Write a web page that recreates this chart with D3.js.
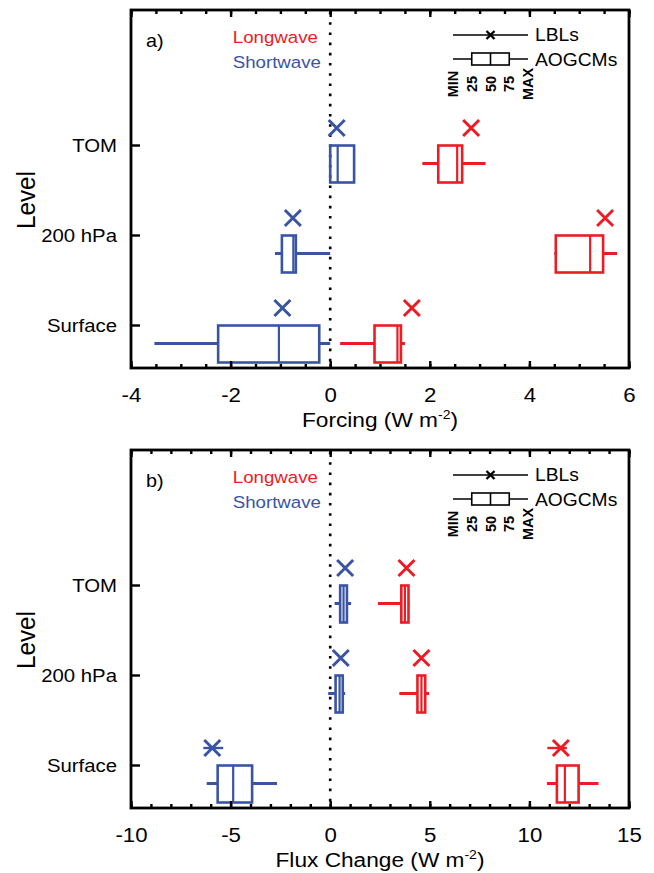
<!DOCTYPE html>
<html>
<head>
<meta charset="utf-8">
<script src="https://cdn.jsdelivr.net/npm/d3@7"></script>
<style>
  body { margin: 0; background: #fff; }
  text { font-family: "Liberation Sans", Arial, Helvetica, sans-serif; fill: #000; }
</style>
</head>
<body>
<svg id="chart" width="654" height="873"></svg>
<script>
//-------------------------------------------------
// Data
//-------------------------------------------------
var levels = ["TOM", "200 hPa", "Surface"];
var boxKeys = ["min", "q25", "q50", "q75", "max"];

// panel a) forcing, per level: [min, 25, 50, 75, max]
var forcingLW = [[1.85, 2.17, 2.55, 2.65, 3.12], [4.50, 4.53, 5.22, 5.48, 5.76], [0.20, 0.89, 1.35, 1.42, 1.50]];
var forcingSW = [[0.00, 0.00, 0.15, 0.48, 0.48], [-1.11, -0.97, -0.74, -0.69, 0.00], [-3.53, -2.25, -1.03, -0.22, 0.00]];
var forcingLblLW = [2.83, 5.52, 1.64];
var forcingLblSW = [0.13, -0.75, -0.96];
var forcingTicks = [-4, -2, 0, 2, 4, 6];

// panel b) flux change
var fluxLW = [[2.40, 3.57, 3.75, 3.93, 3.98], [3.47, 4.38, 4.58, 4.77, 4.97], [10.88, 11.38, 11.78, 12.47, 13.47]];
var fluxSW = [[0.22, 0.50, 0.67, 0.84, 1.05], [-0.10, 0.27, 0.47, 0.63, 0.75], [-6.20, -5.65, -4.87, -3.92, -2.67]];
var fluxLblLW = [3.83, 4.58, 11.58];
var fluxLblSW = [0.75, 0.53, -5.92];
var fluxLblRangeLW = [[3.83, 3.83], [4.58, 4.58], [10.90, 11.88]];
var fluxLblRangeSW = [[0.75, 0.75], [0.53, 0.53], [-6.37, -5.37]];
var fluxTicks = [-10, -5, 0, 5, 10, 15];

var legendLabels = ["MIN", "25", "50", "75", "MAX"];
//-------------------------------------------------

var red = "#ec1c24", blue = "#3a54a4";
var left = 131, right = 629, ph = 358;

var svg = d3.select("#chart");

function txt(g, x, y, s, o) {
  o = o || {};
  var sx = o.stretch || 1.1;  // glyphs in the figure are a bit wider than Arial
  return g.append("text")
    .attr("transform", "translate(" + x + "," + y + ")" + (o.rotate ? " rotate(" + o.rotate + ")" : "") + " scale(" + sx + ",1)")
    .attr("text-anchor", o.anchor || "start")
    .attr("dy", o.dy || null)
    .style("font-size", (o.size || 18) + "px")
    .style("font-weight", o.weight || "normal")
    .style("fill", o.fill || "#000")
    .text(s);
}

function toBox(rows) {
  return rows.map(function (r, i) {
    var o = { level: levels[i] };
    boxKeys.forEach(function (k, j) { o[k] = r[j]; });
    return o;
  });
}

function drawPanel(cfg) {
  var g = svg.append("g").attr("transform", "translate(0," + cfg.top + ")");
  var x = d3.scaleLinear().domain(cfg.domain).range([left, right]);
  var y = d3.scalePoint().domain(levels).range([135, 315]);
  var boxH = 37;

  // zero line
  g.append("line")
    .attr("x1", x(0)).attr("x2", x(0))
    .attr("y1", 2).attr("y2", ph)
    .attr("stroke", "#000").attr("stroke-width", 2.6)
    .attr("stroke-dasharray", "2.6,7.6");

  // boxes
  [{ d: toBox(cfg.lw), c: red }, { d: toBox(cfg.sw), c: blue }].forEach(function (s) {
    var b = g.append("g").selectAll("g").data(s.d).enter().append("g")
      .attr("stroke", s.c).attr("fill", "none");
    b.append("line")
      .attr("x1", function (d) { return x(d.min); })
      .attr("x2", function (d) { return x(d.q25); })
      .attr("y1", function (d) { return y(d.level) + boxH / 2; })
      .attr("y2", function (d) { return y(d.level) + boxH / 2; })
      .attr("stroke-width", 3);
    b.append("line")
      .attr("x1", function (d) { return x(d.q75); })
      .attr("x2", function (d) { return x(d.max); })
      .attr("y1", function (d) { return y(d.level) + boxH / 2; })
      .attr("y2", function (d) { return y(d.level) + boxH / 2; })
      .attr("stroke-width", 3);
    b.append("rect")
      .attr("x", function (d) { return x(d.q25); })
      .attr("width", function (d) { return Math.max(x(d.q75) - x(d.q25), 1); })
      .attr("y", function (d) { return y(d.level) + 0.5; })
      .attr("height", boxH)
      .attr("stroke-width", 2.6);
    b.append("line")
      .attr("x1", function (d) { return x(d.q50); })
      .attr("x2", function (d) { return x(d.q50); })
      .attr("y1", function (d) { return y(d.level) + 0.5; })
      .attr("y2", function (d) { return y(d.level) + boxH + 0.5; })
      .attr("stroke-width", 2.2);
  });

  // LBL crosses
  [{ v: cfg.lblLW, r: cfg.rangeLW, c: red }, { v: cfg.lblSW, r: cfg.rangeSW, c: blue }].forEach(function (s) {
    var m = g.append("g").selectAll("g").data(s.v).enter().append("g")
      .attr("stroke", s.c).attr("stroke-width", 3)
      .attr("transform", function (d, i) { return "translate(" + x(d) + "," + (y(levels[i]) - 17) + ")"; });
    m.append("path").attr("d", "M-8,-8L8,8M-8,8L8,-8");
    if (s.r) {
      m.append("line")
        .attr("x1", function (d, i) { return x(s.r[i][0]) - x(d); })
        .attr("x2", function (d, i) { return x(s.r[i][1]) - x(d); })
        .attr("stroke-width", 2.4);
    }
  });

  // axes: major + minor ticks, bottom and top, pointing inward
  var bottom = g.append("g").attr("transform", "translate(0," + ph + ")")
    .call(d3.axisBottom(x).tickValues(cfg.ticks).tickSize(-7).tickFormat(d3.format("d")));
  bottom.selectAll("text")
    .attr("y", null).attr("dy", null)
    .attr("transform", "translate(0,34) scale(1.06,1)")
    .style("font-size", "21px").style("font-family", "Liberation Sans, Arial, sans-serif")
    .text(function (d) { return d < 0 ? "-" + Math.abs(d) : d; });
  g.append("g").attr("transform", "translate(0," + ph + ")")
    .call(d3.axisBottom(x).tickValues(cfg.minor).tickSize(-4).tickFormat(""));
  g.append("g")
    .call(d3.axisTop(x).tickValues(cfg.ticks).tickSize(-7).tickFormat(""));
  g.append("g")
    .call(d3.axisTop(x).tickValues(cfg.minor).tickSize(-4).tickFormat(""));
  var yAx = g.append("g").attr("transform", "translate(" + left + ",0)")
    .call(d3.axisLeft(y).tickSize(-9));
  yAx.selectAll("text")
    .attr("x", null).attr("dy", "0.34em")
    .attr("transform", "translate(-14,0) scale(1.1,1)")
    .style("font-size", "18.5px").style("font-family", "Liberation Sans, Arial, sans-serif");
  g.selectAll(".domain").remove();
  g.selectAll(".tick line").attr("stroke", "#000").attr("stroke-width", 2.4);

  // frame
  g.append("rect")
    .attr("x", left).attr("y", 0)
    .attr("width", right - left).attr("height", ph)
    .attr("fill", "none").attr("stroke", "#000").attr("stroke-width", 2.8);

  // titles
  var t = txt(g, (left + right) / 2, ph + 59, cfg.title, { anchor: "middle", size: 21, stretch: 1.08 });
  t.append("tspan").attr("dy", -8).style("font-size", "13px").text("-2");
  t.append("tspan").attr("dy", 8).text(")");
  txt(g, 26, 190, "Level", { rotate: -90, anchor: "middle", dy: "0.36em", size: 25, stretch: 0.97 });

  // panel letter and series key
  txt(g, 146, 37, cfg.letter, { size: 18 });
  txt(g, 318, 33, "Longwave", { anchor: "end", size: 17, fill: red });
  txt(g, 321, 58, "Shortwave", { anchor: "end", size: 17, fill: blue });

  // LBL / AOGCM key
  var lx = d3.scalePoint().domain(legendLabels).range([453, 528]);
  var key = g.append("g").attr("stroke", "#000").attr("fill", "none");
  key.append("line").attr("x1", lx("MIN")).attr("x2", lx("MAX")).attr("y1", 25).attr("y2", 25).attr("stroke-width", 1.6);
  key.append("path").attr("d", "M" + (lx("50") - 4) + ",21l8,8m-8,0l8,-8").attr("stroke-width", 2.4);
  key.append("line").attr("x1", lx("MIN")).attr("x2", lx("MAX")).attr("y1", 49).attr("y2", 49).attr("stroke-width", 1.6);
  key.append("rect").attr("x", lx("25")).attr("y", 43).attr("width", lx("75") - lx("25")).attr("height", 12)
    .attr("fill", "#fff").attr("stroke-width", 1.6);
  key.append("line").attr("x1", lx("50")).attr("x2", lx("50")).attr("y1", 43).attr("y2", 55).attr("stroke-width", 1.6);
  txt(g, 535, 31, "LBLs", { size: 17.5 });
  txt(g, 535, 56, "AOGCMs", { size: 17.5 });
  legendLabels.forEach(function (l) {
    txt(g, lx(l), 74, l, { rotate: -90, anchor: "middle", dy: "0.36em", size: 14.5, weight: "bold", stretch: 1.0 });
  });
}

drawPanel({
  top: 10, letter: "a)", title: "Forcing (W m", domain: [-4, 6],
  ticks: forcingTicks, minor: d3.range(-4, 6.01, 0.5),
  lw: forcingLW, sw: forcingSW, lblLW: forcingLblLW, lblSW: forcingLblSW
});
drawPanel({
  top: 450, letter: "b)", title: "Flux Change (W m", domain: [-10, 15],
  ticks: fluxTicks, minor: d3.range(-10, 15.01, 1),
  lw: fluxLW, sw: fluxSW, lblLW: fluxLblLW, lblSW: fluxLblSW,
  rangeLW: fluxLblRangeLW, rangeSW: fluxLblRangeSW
});
</script>
</body>
</html>
